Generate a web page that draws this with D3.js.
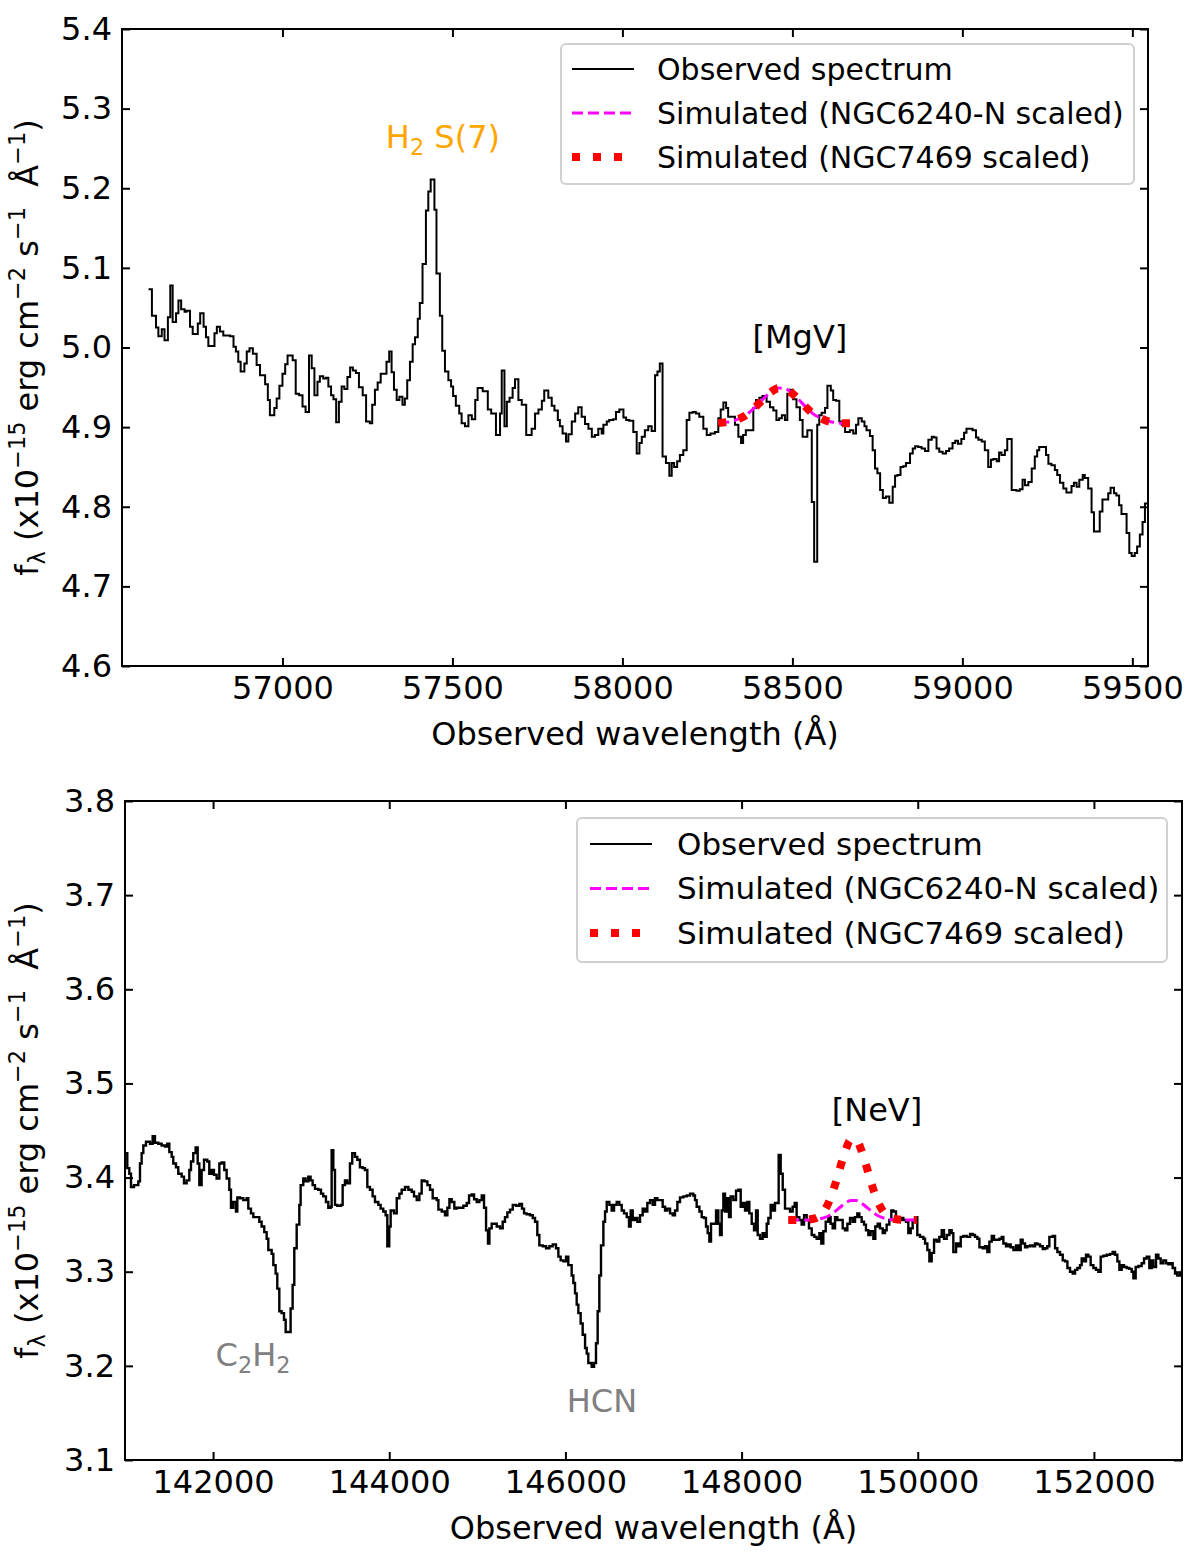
<!DOCTYPE html>
<html>
<head>
<meta charset="utf-8">
<script src="https://cdn.jsdelivr.net/npm/d3@7"></script>
<style>
body { margin: 0; background: #fff; }
svg { display: block; font-family: "DejaVu Sans", sans-serif; }
text { white-space: pre; }
</style>
</head>
<body>
<div id="chart"></div>
<script>
/* Top panel: observed spectrum around [MgV], as [wavelength, flux] steps. */
var topSpectrum = [
    [56606,5.073],[56616,5.040],[56628,5.025],[56635,5.014],[56645,5.023],[56653,5.009],[56663,5.038],[56670,5.078],
    [56677,5.032],[56687,5.043],[56694,5.059],[56702,5.048],[56712,5.045],[56718,5.046],[56728,5.026],[56736,5.017],
    [56751,5.030],[56758,5.043],[56768,5.026],[56775,5.013],[56782,5.002],[56800,5.018],[56807,5.026],[56816,5.020],
    [56826,5.015],[56846,5.014],[56856,5.001],[56863,4.995],[56870,4.982],[56877,4.970],[56888,4.980],[56895,4.995],
    [56903,4.999],[56913,4.992],[56924,4.978],[56934,4.965],[56949,4.954],[56957,4.934],[56963,4.915],[56976,4.924],
    [56983,4.936],[56991,4.952],[57000,4.967],[57008,4.979],[57015,4.990],[57030,4.984],[57039,4.942],[57049,4.940],
    [57059,4.926],[57068,4.919],[57078,4.990],[57086,4.974],[57094,4.940],[57103,4.957],[57110,4.964],[57120,4.961],
    [57128,4.962],[57135,4.951],[57143,4.940],[57150,4.935],[57158,4.906],[57166,4.932],[57174,4.951],[57182,4.948],
    [57191,4.963],[57199,4.975],[57207,4.971],[57216,4.968],[57225,4.950],[57236,4.940],[57246,4.907],[57257,4.905],
    [57264,4.928],[57272,4.947],[57280,4.956],[57289,4.967],[57297,4.967],[57306,4.982],[57314,4.995],[57321,4.969],
    [57328,4.947],[57336,4.934],[57344,4.938],[57353,4.928],[57360,4.936],[57367,4.959],[57375,4.982],[57383,5.004],
    [57390,5.013],[57398,5.036],[57404,5.056],[57412,5.105],[57422,5.172],[57429,5.196],[57436,5.211],[57447,5.173],
    [57453,5.093],[57463,5.040],[57470,4.996],[57478,4.970],[57488,4.959],[57496,4.951],[57502,4.939],[57510,4.927],
    [57520,4.917],[57527,4.905],[57537,4.901],[57547,4.915],[57557,4.910],[57567,4.934],[57574,4.949],[57589,4.945],
    [57604,4.922],[57614,4.917],[57628,4.890],[57640,4.917],[57645,4.971],[57653,4.901],[57660,4.932],[57668,4.937],
    [57677,4.949],[57684,4.960],[57694,4.934],[57704,4.928],[57717,4.890],[57733,4.898],[57743,4.917],[57753,4.922],
    [57763,4.933],[57770,4.946],[57782,4.937],[57792,4.927],[57800,4.921],[57810,4.909],[57816,4.901],[57824,4.892],
    [57834,4.882],[57841,4.891],[57851,4.907],[57861,4.917],[57870,4.925],[57880,4.913],[57890,4.904],[57900,4.898],
    [57910,4.888],[57919,4.890],[57929,4.898],[57939,4.892],[57944,4.903],[57954,4.907],[57961,4.909],[57973,4.910],
    [57981,4.919],[57991,4.922],[58003,4.912],[58011,4.909],[58020,4.908],[58032,4.894],[58042,4.867],[58050,4.880],
    [58057,4.888],[58066,4.896],[58076,4.901],[58086,4.895],[58096,4.965],[58103,4.970],[58110,4.980],[58118,4.863],
    [58128,4.855],[58138,4.839],[58145,4.855],[58152,4.850],[58161,4.857],[58169,4.865],[58179,4.871],[58189,4.909],
    [58197,4.918],[58207,4.919],[58216,4.917],[58226,4.913],[58238,4.898],[58248,4.890],[58259,4.892],[58272,4.894],
    [58282,4.911],[58289,4.922],[58297,4.931],[58305,4.924],[58311,4.913],[58331,4.903],[58341,4.888],[58349,4.880],
    [58355,4.890],[58363,4.896],[58385,4.924],[58393,4.934],[58403,4.937],[58412,4.939],[58424,4.932],[58434,4.925],
    [58444,4.921],[58453,4.909],[58461,4.911],[58469,4.915],[58478,4.909],[58485,4.942],[58493,4.947],[58502,4.935],
    [58512,4.925],[58522,4.909],[58530,4.888],[58544,4.896],[58557,4.806],[58564,4.731],[58573,4.903],[58579,4.915],
    [58586,4.918],[58596,4.924],[58603,4.952],[58613,4.946],[58620,4.934],[58628,4.933],[58638,4.907],[58645,4.903],
    [58655,4.894],[58669,4.896],[58679,4.892],[58687,4.903],[58694,4.911],[58704,4.907],[58712,4.901],[58718,4.896],
    [58728,4.889],[58736,4.871],[58743,4.848],[58750,4.842],[58758,4.821],[58766,4.811],[58775,4.813],[58785,4.805],
    [58795,4.825],[58802,4.839],[58809,4.840],[58818,4.850],[58826,4.851],[58834,4.855],[58846,4.867],[58854,4.873],
    [58861,4.876],[58870,4.875],[58880,4.873],[58890,4.870],[58900,4.884],[58910,4.888],[58917,4.887],[58924,4.873],
    [58932,4.869],[58942,4.867],[58952,4.870],[58961,4.873],[58971,4.880],[58979,4.883],[58987,4.879],[58997,4.885],
    [59005,4.893],[59012,4.898],[59022,4.898],[59030,4.896],[59040,4.887],[59047,4.884],[59057,4.882],[59066,4.871],
    [59076,4.850],[59084,4.859],[59091,4.860],[59101,4.857],[59108,4.868],[59115,4.865],[59125,4.871],[59132,4.885],
    [59145,4.821],[59159,4.820],[59169,4.822],[59177,4.834],[59184,4.827],[59194,4.831],[59204,4.848],[59213,4.863],
    [59220,4.871],[59226,4.875],[59246,4.865],[59253,4.854],[59262,4.852],[59272,4.846],[59279,4.840],[59287,4.830],
    [59297,4.823],[59306,4.818],[59321,4.826],[59328,4.830],[59336,4.825],[59344,4.834],[59354,4.840],[59360,4.836],
    [59370,4.823],[59380,4.793],[59387,4.769],[59404,4.794],[59412,4.809],[59429,4.817],[59436,4.824],[59446,4.817],
    [59453,4.814],[59461,4.802],[59468,4.791],[59483,4.767],[59491,4.742],[59498,4.738],[59507,4.742],[59514,4.750],
    [59522,4.765],[59530,4.781],[59537,4.804],[59546,4.804]
];

/* Top panel simulated [MgV] profiles. */
var topSimNGC6240 = [
    [58282,4.905],[58300,4.906],[58320,4.907],[58340,4.910],[58360,4.914],[58380,4.921],[58400,4.929],[58420,4.938],
    [58440,4.945],[58460,4.949],[58480,4.948],[58500,4.942],[58520,4.934],[58540,4.925],[58560,4.917],[58580,4.912],
    [58600,4.908],[58620,4.906],[58640,4.905],[58670,4.905]
];
var topSimNGC7469 = [
    [58282,4.905],[58300,4.906],[58320,4.907],[58340,4.910],[58360,4.914],[58380,4.921],[58400,4.929],[58420,4.938],
    [58440,4.945],[58460,4.949],[58480,4.948],[58500,4.942],[58520,4.934],[58540,4.925],[58560,4.917],[58580,4.912],
    [58600,4.908],[58620,4.906],[58640,4.905],[58670,4.905]
];

/* Bottom panel: observed spectrum around [NeV]. */
var bottomSpectrum = [
    [141000,3.426],[141026,3.410],[141049,3.404],[141068,3.390],[141102,3.392],[141151,3.396],[141170,3.415],[141189,3.426],
    [141208,3.434],[141238,3.438],[141284,3.436],[141314,3.444],[141340,3.437],[141378,3.436],[141416,3.434],[141454,3.433],
    [141480,3.436],[141503,3.427],[141530,3.422],[141548,3.415],[141579,3.411],[141605,3.404],[141643,3.401],[141670,3.394],
    [141700,3.397],[141730,3.408],[141749,3.417],[141775,3.426],[141802,3.432],[141825,3.415],[141844,3.392],[141870,3.408],
    [141897,3.419],[141934,3.417],[141957,3.404],[141984,3.408],[142010,3.403],[142040,3.399],[142071,3.415],[142097,3.416],
    [142127,3.408],[142154,3.399],[142184,3.387],[142203,3.368],[142230,3.374],[142260,3.364],[142275,3.379],[142305,3.378],
    [142343,3.376],[142381,3.378],[142400,3.367],[142430,3.362],[142457,3.358],[142494,3.358],[142525,3.353],[142551,3.348],
    [142581,3.342],[142608,3.335],[142627,3.323],[142665,3.319],[142684,3.307],[142710,3.298],[142729,3.282],[142752,3.258],
    [142778,3.256],[142805,3.249],[142824,3.236],[142854,3.236],[142880,3.261],[142903,3.286],[142922,3.325],[142949,3.350],
    [142979,3.371],[142994,3.392],[143024,3.399],[143051,3.396],[143081,3.401],[143107,3.397],[143130,3.392],[143157,3.388],
    [143194,3.387],[143225,3.383],[143251,3.380],[143281,3.374],[143308,3.368],[143335,3.369],[143346,3.429],[143365,3.408],
    [143384,3.371],[143410,3.370],[143452,3.371],[143471,3.392],[143497,3.397],[143524,3.394],[143554,3.415],[143580,3.426],
    [143611,3.422],[143637,3.419],[143667,3.411],[143698,3.410],[143724,3.408],[143751,3.390],[143781,3.387],[143811,3.380],
    [143838,3.374],[143876,3.371],[143902,3.367],[143932,3.364],[143959,3.360],[143978,3.327],[144000,3.348],[144016,3.365],
    [144054,3.362],[144085,3.378],[144115,3.383],[144141,3.387],[144179,3.390],[144217,3.387],[144255,3.385],[144281,3.380],
    [144312,3.376],[144342,3.383],[144368,3.397],[144399,3.396],[144433,3.392],[144463,3.387],[144493,3.378],[144539,3.376],
    [144558,3.366],[144596,3.364],[144633,3.360],[144660,3.368],[144683,3.377],[144709,3.374],[144739,3.367],[144766,3.368],
    [144804,3.368],[144841,3.370],[144879,3.373],[144906,3.381],[144936,3.382],[144963,3.377],[144993,3.374],[145023,3.376],
    [145050,3.381],[145076,3.368],[145099,3.344],[145121,3.330],[145137,3.346],[145163,3.351],[145193,3.351],[145220,3.348],
    [145258,3.346],[145288,3.353],[145314,3.358],[145341,3.363],[145371,3.366],[145402,3.371],[145439,3.370],[145477,3.372],
    [145507,3.367],[145530,3.362],[145560,3.361],[145598,3.360],[145629,3.357],[145655,3.353],[145681,3.339],[145704,3.328],
    [145742,3.327],[145780,3.325],[145818,3.327],[145856,3.329],[145893,3.325],[145920,3.316],[145946,3.312],[145977,3.311],
    [146007,3.316],[146033,3.307],[146071,3.296],[146090,3.288],[146109,3.277],[146128,3.265],[146147,3.256],[146173,3.245],
    [146196,3.233],[146223,3.219],[146242,3.213],[146260,3.203],[146298,3.199],[146325,3.203],[146347,3.224],[146366,3.258],
    [146385,3.296],[146404,3.328],[146431,3.353],[146450,3.364],[146469,3.374],[146499,3.371],[146525,3.365],[146552,3.371],
    [146582,3.374],[146612,3.371],[146639,3.365],[146665,3.362],[146696,3.358],[146722,3.348],[146741,3.365],[146764,3.355],
    [146790,3.357],[146817,3.353],[146847,3.360],[146877,3.367],[146904,3.364],[146930,3.373],[146961,3.376],[146991,3.371],
    [147017,3.378],[147044,3.376],[147074,3.376],[147104,3.369],[147131,3.365],[147157,3.367],[147188,3.362],[147218,3.360],
    [147244,3.365],[147271,3.374],[147301,3.379],[147339,3.380],[147377,3.381],[147415,3.383],[147452,3.381],[147471,3.376],
    [147490,3.369],[147521,3.364],[147547,3.358],[147573,3.357],[147596,3.348],[147615,3.341],[147634,3.332],[147653,3.351],
    [147679,3.351],[147710,3.365],[147736,3.351],[147755,3.339],[147774,3.365],[147793,3.383],[147812,3.364],[147831,3.378],
    [147857,3.358],[147876,3.380],[147906,3.376],[147937,3.386],[147963,3.387],[147990,3.369],[148012,3.373],[148039,3.365],
    [148065,3.374],[148088,3.362],[148115,3.351],[148141,3.344],[148164,3.365],[148183,3.339],[148209,3.335],[148239,3.341],
    [148266,3.337],[148285,3.351],[148304,3.357],[148330,3.371],[148353,3.365],[148379,3.373],[148406,3.373],[148421,3.424],
    [148444,3.404],[148467,3.387],[148493,3.367],[148519,3.367],[148550,3.364],[148580,3.369],[148603,3.373],[148625,3.358],
    [148656,3.355],[148682,3.350],[148709,3.360],[148739,3.355],[148765,3.346],[148796,3.339],[148826,3.337],[148852,3.335],
    [148883,3.341],[148905,3.330],[148928,3.343],[148955,3.353],[148985,3.358],[149011,3.351],[149034,3.346],[149061,3.358],
    [149087,3.355],[149117,3.355],[149148,3.346],[149174,3.344],[149201,3.351],[149231,3.357],[149261,3.353],[149288,3.358],
    [149314,3.362],[149337,3.358],[149363,3.353],[149390,3.350],[149412,3.344],[149439,3.339],[149465,3.343],[149496,3.335],
    [149518,3.348],[149545,3.351],[149571,3.346],[149602,3.341],[149628,3.344],[149647,3.350],[149677,3.355],[149700,3.365],
    [149723,3.364],[149753,3.358],[149780,3.355],[149806,3.357],[149836,3.355],[149867,3.353],[149893,3.341],[149920,3.346],
    [149942,3.355],[149969,3.358],[149995,3.339],[150026,3.337],[150064,3.335],[150083,3.330],[150109,3.323],[150132,3.311],
    [150158,3.320],[150185,3.334],[150215,3.332],[150245,3.337],[150272,3.344],[150298,3.335],[150329,3.339],[150359,3.344],
    [150385,3.341],[150404,3.321],[150435,3.330],[150461,3.327],[150488,3.337],[150518,3.338],[150556,3.337],[150594,3.340],
    [150624,3.339],[150650,3.337],[150677,3.335],[150700,3.326],[150737,3.325],[150764,3.327],[150790,3.321],[150813,3.332],
    [150840,3.338],[150866,3.334],[150896,3.334],[150927,3.335],[150953,3.337],[150972,3.330],[151002,3.327],[151029,3.329],
    [151055,3.326],[151086,3.323],[151116,3.328],[151142,3.323],[151169,3.334],[151191,3.330],[151218,3.326],[151244,3.327],
    [151275,3.328],[151305,3.327],[151331,3.330],[151358,3.329],[151388,3.327],[151419,3.324],[151445,3.325],[151471,3.327],
    [151494,3.337],[151532,3.338],[151559,3.325],[151585,3.321],[151615,3.318],[151646,3.312],[151672,3.311],[151699,3.304],
    [151729,3.300],[151759,3.298],[151786,3.302],[151812,3.304],[151842,3.307],[151861,3.314],[151888,3.311],[151910,3.318],
    [151937,3.316],[151963,3.307],[151994,3.304],[152024,3.302],[152050,3.300],[152077,3.316],[152107,3.317],[152145,3.318],
    [152183,3.319],[152213,3.321],[152240,3.318],[152266,3.311],[152289,3.302],[152315,3.307],[152342,3.305],[152372,3.304],
    [152402,3.303],[152429,3.300],[152448,3.293],[152474,3.305],[152505,3.306],[152542,3.309],[152569,3.314],[152599,3.316],
    [152629,3.304],[152656,3.312],[152675,3.305],[152705,3.318],[152732,3.314],[152758,3.309],[152788,3.312],[152819,3.309],
    [152845,3.308],[152872,3.309],[152894,3.304],[152921,3.298],[152947,3.296],[152978,3.298],[153000,3.302]
];

/* Bottom panel simulated [NeV] profiles. */
var bottomSimNGC6240 = [
    [148530,3.355],[148800,3.355],[148880,3.356],[148940,3.3575],[149000,3.360],[149060,3.364],[149120,3.3685],
    [149180,3.373],[149240,3.3756],[149300,3.3756],[149360,3.373],[149420,3.3685],[149480,3.364],[149540,3.360],
    [149600,3.3575],[149660,3.356],[149740,3.355],[149990,3.355]
];
var bottomSimNGC7469 = [
    [148530,3.355],[148600,3.355],[148700,3.355],[148800,3.356],[148880,3.359],[148940,3.365],[149000,3.376],
    [149060,3.392],[149120,3.411],[149180,3.429],[149240,3.440],[149300,3.440],[149360,3.429],[149420,3.411],
    [149480,3.392],[149540,3.376],[149600,3.365],[149660,3.359],[149740,3.356],[149840,3.355],[149990,3.355]
];

/* Axis ranges and ticks. */
var topXDomain = [56528, 59546];
var topYDomain = [4.6, 5.4];
var topXTicks = [57000, 57500, 58000, 58500, 59000, 59500];
var topYTicks = [4.6, 4.7, 4.8, 4.9, 5.0, 5.1, 5.2, 5.3, 5.4];

var bottomXDomain = [141000, 153000];
var bottomYDomain = [3.1, 3.8];
var bottomXTicks = [142000, 144000, 146000, 148000, 150000, 152000];
var bottomYTicks = [3.1, 3.2, 3.3, 3.4, 3.5, 3.6, 3.7, 3.8];

/* Line labels: text pieces, position in data units, colour. */
var topNotes = [
    { parts: [["H"], ["2", "sub"], [" S(7)"]], wave: 57472, flux: 5.251, color: "#ffa500" },
    { parts: [["[MgV]"]], wave: 58522, flux: 4.999, color: "#000" }
];
var bottomNotes = [
    { parts: [["[NeV]"]], wave: 149537, flux: 3.460, color: "#000" },
    { parts: [["C"], ["2", "sub"], ["H"], ["2", "sub"]], wave: 142453, flux: 3.200, color: "#808080" },
    { parts: [["HCN"]], wave: 146415, flux: 3.151, color: "#808080" }
];

var legendLabels = ["Observed spectrum", "Simulated (NGC6240-N scaled)", "Simulated (NGC7469 scaled)"];
var yLabelParts = [["f"], ["\u03bb", "sub"], [" (x10"], ["\u221215", "sup"], [" erg cm"], ["\u22122", "sup"],
    [" s"], ["\u22121", "sup"], ["  \u00c5"], ["\u22121", "sup"], [")"]];

var svg = d3.select("#chart").append("svg")
    .attr("width", 1200)
    .attr("height", 1564);

drawPanel({
    name: "top", left: 122, top: 29, width: 1026, height: 637, lineWidth: 2,
    xDomain: topXDomain, yDomain: topYDomain, xTicks: topXTicks, yTicks: topYTicks,
    observed: topSpectrum, simA: topSimNGC6240, simB: topSimNGC7469, notes: topNotes,
    legend: { right: 14, top: 15, w: 573, h: 140, handle: 11, text: 96, row0: 25, gap: 44, fs: 30 }
});

drawPanel({
    name: "bottom", left: 125, top: 801, width: 1057, height: 659, lineWidth: 2.4,
    xDomain: bottomXDomain, yDomain: bottomYDomain, xTicks: bottomXTicks, yTicks: bottomYTicks,
    observed: bottomSpectrum, simA: bottomSimNGC6240, simB: bottomSimNGC7469, notes: bottomNotes,
    legend: { right: 15, top: 17, w: 590, h: 144, handle: 13, text: 100, row0: 26, gap: 44.5, fs: 31 }
});

function richText(sel, parts, fs) {
    var shift = 0;
    parts.forEach(function(part) {
        var target = 0;
        if (part[1] == "sub") target = fs * 0.22;
        if (part[1] == "sup") target = -fs * 0.42;
        sel.append("tspan")
            .attr("dy", target - shift)
            .attr("font-size", part[1] ? fs * 0.7 : fs)
            .text(part[0]);
        shift = target;
    });
}

function drawPanel(p) {
    var fs = 32;
    var g = svg.append("g").attr("transform", "translate(" + p.left + "," + p.top + ")");

    var x = d3.scaleLinear().domain(p.xDomain).range([0, p.width]);
    var y = d3.scaleLinear().domain(p.yDomain).range([p.height, 0]);

    g.append("clipPath").attr("id", "clip-" + p.name)
        .append("rect").attr("width", p.width).attr("height", p.height);
    var plot = g.append("g").attr("clip-path", "url(#clip-" + p.name + ")");

    var stepLine = d3.line()
        .x(function(d) { return x(d[0]); })
        .y(function(d) { return y(d[1]); })
        .curve(d3.curveStepAfter);
    var smoothLine = d3.line()
        .x(function(d) { return x(d[0]); })
        .y(function(d) { return y(d[1]); })
        .curve(d3.curveMonotoneX);

    plot.append("path").datum(p.observed)
        .attr("d", stepLine)
        .attr("fill", "none").attr("stroke", "#000").attr("stroke-width", p.lineWidth);
    plot.append("path").datum(p.simA)
        .attr("d", smoothLine)
        .attr("fill", "none").attr("stroke", "#ff00ff").attr("stroke-width", 3)
        .attr("stroke-dasharray", "11,5");
    plot.append("path").datum(p.simB)
        .attr("d", smoothLine)
        .attr("fill", "none").attr("stroke", "#ff0000").attr("stroke-width", 8)
        .attr("stroke-dasharray", "8,13");

    /* Ticks point inwards on all four sides, labels only bottom and left. */
    var axes = [
        { axis: d3.axisBottom(x).tickValues(p.xTicks).tickFormat(d3.format("d")), at: [0, p.height] },
        { axis: d3.axisTop(x).tickValues(p.xTicks).tickFormat(""), at: [0, 0] },
        { axis: d3.axisLeft(y).tickValues(p.yTicks).tickFormat(d3.format(".1f")), at: [0, 0] },
        { axis: d3.axisRight(y).tickValues(p.yTicks).tickFormat(""), at: [p.width, 0] }
    ];
    axes.forEach(function(a) {
        var ag = g.append("g")
            .attr("transform", "translate(" + a.at[0] + "," + a.at[1] + ")")
            .call(a.axis.tickSizeInner(-8).tickSizeOuter(0).tickPadding(10));
        ag.select(".domain").remove();
        ag.selectAll(".tick line").attr("stroke", "#000").attr("stroke-width", 2);
        ag.selectAll(".tick text")
            .attr("fill", "#000")
            .attr("font-size", fs)
            .attr("font-family", "DejaVu Sans");
    });

    g.append("rect")
        .attr("width", p.width).attr("height", p.height)
        .attr("fill", "none").attr("stroke", "#000").attr("stroke-width", 2);

    /* Axis titles. */
    g.append("text")
        .attr("x", p.width / 2).attr("y", p.height + 79)
        .attr("text-anchor", "middle").attr("font-size", fs)
        .text("Observed wavelength (\u00c5)");

    var yl = g.append("text")
        .attr("transform", "translate(" + (38 - p.left) + "," + (p.height / 2) + ") rotate(-90)")
        .attr("text-anchor", "middle").attr("font-size", fs);
    richText(yl, yLabelParts, fs);

    /* Line labels. */
    p.notes.forEach(function(n) {
        var t = g.append("text")
            .attr("x", x(n.wave)).attr("y", y(n.flux))
            .attr("text-anchor", "middle").attr("font-size", fs)
            .attr("fill", n.color);
        richText(t, n.parts, fs);
    });

    /* Legend. */
    var L = p.legend;
    var lg = g.append("g")
        .attr("transform", "translate(" + (p.width - L.right - L.w) + "," + L.top + ")");
    lg.append("rect")
        .attr("width", L.w).attr("height", L.h).attr("rx", 5)
        .attr("fill", "#fff").attr("fill-opacity", 0.8)
        .attr("stroke", "#d0d0d0").attr("stroke-width", 2);
    var handles = [
        { stroke: "#000", width: 2, dash: null },
        { stroke: "#ff00ff", width: 3, dash: "11,5" },
        { stroke: "#ff0000", width: 8, dash: "8,13" }
    ];
    legendLabels.forEach(function(label, i) {
        var ry = L.row0 + i * L.gap;
        lg.append("line")
            .attr("x1", L.handle).attr("x2", L.handle + 62)
            .attr("y1", ry).attr("y2", ry)
            .attr("stroke", handles[i].stroke)
            .attr("stroke-width", handles[i].width)
            .attr("stroke-dasharray", handles[i].dash);
        lg.append("text")
            .attr("x", L.text).attr("y", ry).attr("dy", "0.35em")
            .attr("font-size", L.fs)
            .text(label);
    });
}
</script>
</body>
</html>
